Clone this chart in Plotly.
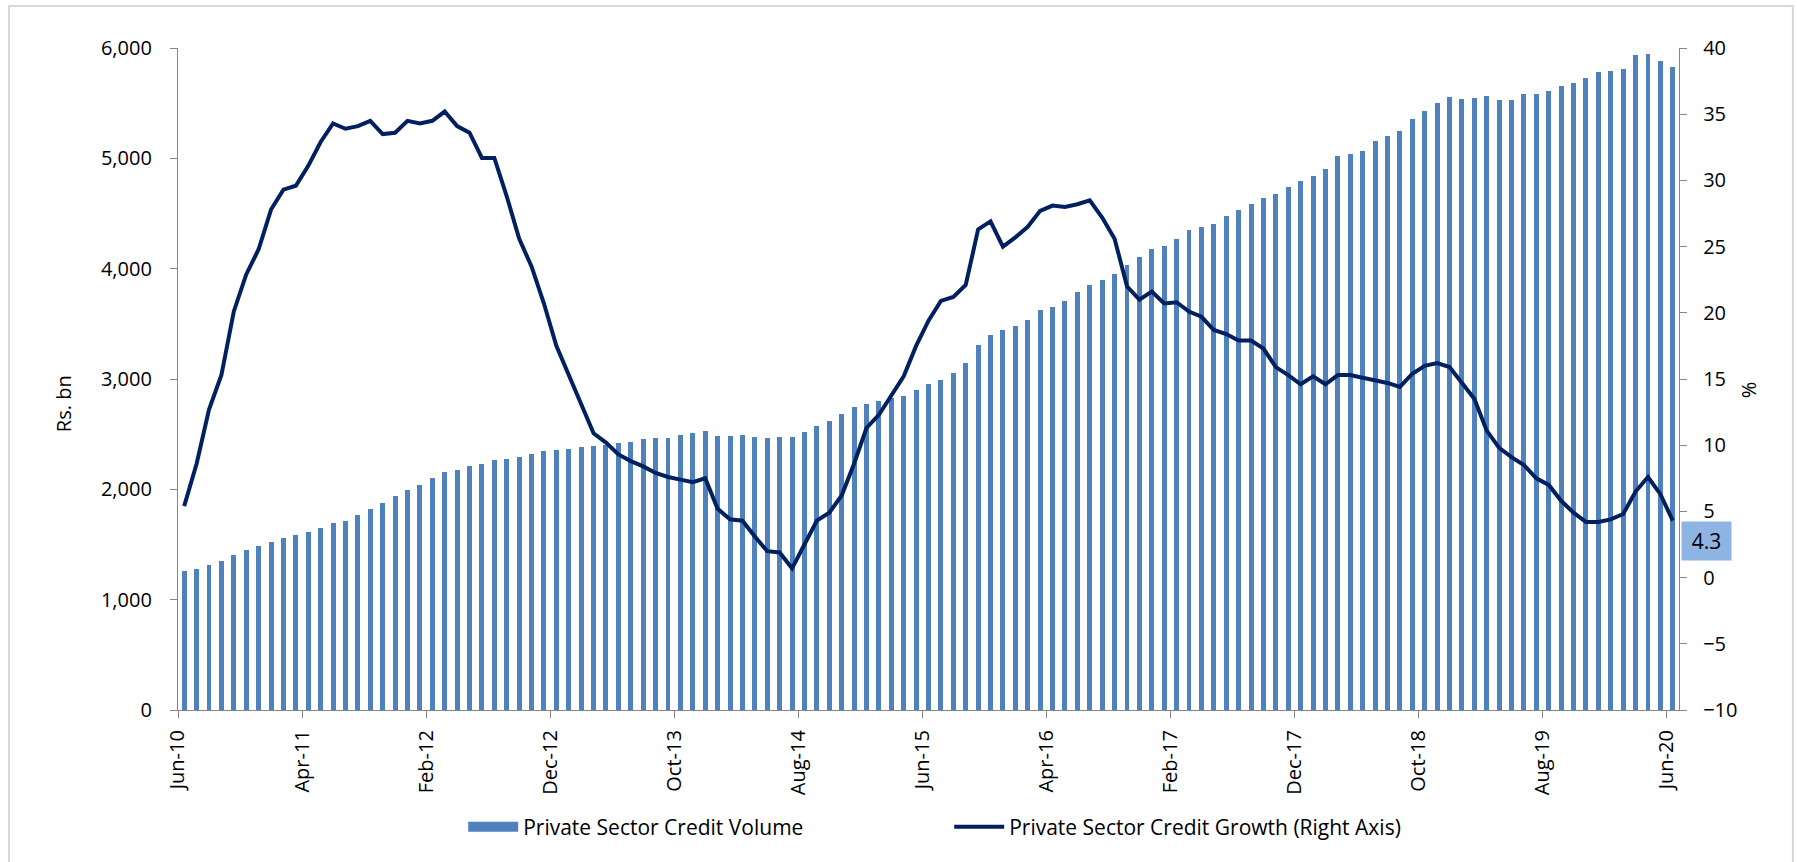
import pandas as pd
import plotly.graph_objects as go

# Monthly series, Jun-2010 .. Jun-2020
months = pd.date_range("2010-06-01", periods=121, freq="MS").strftime("%b-%y").tolist()

credit_volume = [
    1258, 1278, 1318, 1353, 1404, 1448, 1483, 1519, 1558, 1590,
    1617, 1649, 1692, 1716, 1767, 1819, 1874, 1937, 1996, 2041,
    2099, 2154, 2174, 2209, 2229, 2264, 2276, 2292, 2320, 2343,
    2359, 2363, 2383, 2394, 2402, 2418, 2426, 2458, 2462, 2469,
    2489, 2513, 2529, 2485, 2481, 2489, 2473, 2469, 2473, 2473,
    2521, 2576, 2615, 2679, 2746, 2773, 2797, 2828, 2848, 2899,
    2955, 2994, 3057, 3148, 3306, 3396, 3440, 3483, 3535, 3621,
    3649, 3708, 3787, 3850, 3897, 3956, 4032, 4110, 4181, 4201,
    4272, 4355, 4375, 4402, 4481, 4536, 4588, 4639, 4679, 4738,
    4797, 4837, 4904, 5022, 5041, 5069, 5156, 5203, 5247, 5357,
    5425, 5500, 5555, 5539, 5551, 5567, 5527, 5527, 5586, 5586,
    5606, 5657, 5681, 5728, 5787, 5791, 5810, 5936, 5948, 5881,
    5826,
]

credit_growth = [
    5.4, 8.6, 12.7, 15.3, 20.1, 22.9, 24.8, 27.8, 29.3, 29.6,
    31.1, 32.9, 34.3, 33.9, 34.1, 34.5, 33.5, 33.6, 34.5, 34.3,
    34.5, 35.2, 34.1, 33.6, 31.7, 31.7, 28.8, 25.6, 23.5, 20.7,
    17.5, 15.3, 13.2, 10.9, 10.2, 9.3, 8.8, 8.4, 7.9, 7.6,
    7.4, 7.2, 7.5, 5.2, 4.4, 4.3, 3.1, 2.0, 1.9, 0.7,
    2.5, 4.3, 4.9, 6.2, 8.6, 11.3, 12.3, 13.7, 15.2, 17.5,
    19.4, 20.9, 21.2, 22.1, 26.3, 26.9, 25.0, 25.7, 26.5, 27.7,
    28.1, 28.0, 28.2, 28.5, 27.2, 25.6, 22.0, 21.0, 21.6, 20.7,
    20.8, 20.1, 19.7, 18.7, 18.4, 17.9, 17.9, 17.3, 15.9, 15.3,
    14.6, 15.2, 14.6, 15.3, 15.3, 15.1, 14.9, 14.7, 14.4, 15.4,
    16.0, 16.2, 15.9, 14.7, 13.5, 11.1, 9.8, 9.1, 8.5, 7.5,
    7.0, 5.8, 4.9, 4.2, 4.2, 4.4, 4.8, 6.5, 7.6, 6.3,
    4.3,
]

tick_step = 10
left_ticks = [0, 1000, 2000, 3000, 4000, 5000, 6000]
right_ticks = list(range(-10, 41, 5))

BAR_BLUE = "#4F81BD"
NAVY = "#002060"
AXIS_GREY = "#868686"
FONT = "Open Sans"

# bars sit in the middle of each month slot; ticks mark the slot edges
xpos = [i + 0.5 for i in range(len(months))]
tickvals = list(range(0, len(months), tick_step))
ticktext = [months[i] for i in tickvals]

fig = go.Figure()

fig.add_trace(go.Bar(
    x=xpos, y=credit_volume, width=0.4,
    marker=dict(color=BAR_BLUE, line=dict(width=0)),
    name="Private Sector Credit Volume", showlegend=False,
))
fig.add_trace(go.Scatter(
    x=xpos, y=credit_growth, yaxis="y2", mode="lines",
    line=dict(color=NAVY, width=4),
    name="Private Sector Credit Growth (Right Axis)", showlegend=False,
))
# legend keys drawn as wide swatches
fig.add_trace(go.Scatter(
    x=[None], y=[None], mode="lines",
    line=dict(color=BAR_BLUE, width=11),
    name="Private Sector Credit Volume", legendrank=1,
))
fig.add_trace(go.Scatter(
    x=[None], y=[None], yaxis="y2", mode="lines",
    line=dict(color=NAVY, width=4),
    name="Private Sector Credit Growth (Right Axis)", legendrank=2,
))

axis_common = dict(
    showgrid=False, zeroline=False, showline=True,
    linecolor=AXIS_GREY, linewidth=1.3,
    ticks="outside", ticklen=7, tickwidth=1.3, tickcolor=AXIS_GREY,
    tickfont=dict(family=FONT, size=20, color="#000000"),
)

fig.update_layout(
    width=1797, height=862,
    margin=dict(l=178, r=118, t=48, b=152),
    paper_bgcolor="white", plot_bgcolor="white",
    font=dict(family=FONT, size=20, color="#000000"),
    bargap=0,
    xaxis=dict(
        **axis_common,
        range=[0, len(months)],
        tickmode="array", tickvals=tickvals, ticktext=ticktext,
        tickangle=-90, ticklabelstandoff=4,
    ),
    yaxis=dict(
        **axis_common,
        range=[0, 6000], tickmode="array", tickvals=left_ticks,
        tickformat=",d", ticklabelstandoff=14,
    ),
    yaxis2=dict(
        **axis_common,
        range=[-10, 40], tickmode="array", tickvals=right_ticks,
        overlaying="y", side="right", ticklabelstandoff=12,
    ),
    legend=dict(
        orientation="h", x=0.19, xanchor="left", y=-0.177, yanchor="middle",
        font=dict(family=FONT, size=21, color="#000000"),
        entrywidth=421, entrywidthmode="pixels", itemwidth=50,
        bgcolor="rgba(0,0,0,0)",
    ),
    showlegend=True,
)

# axis titles
fig.add_annotation(
    text="Rs. bn", xref="paper", yref="paper", x=-0.0766, y=0.462,
    xanchor="center", yanchor="middle",
    textangle=-90, showarrow=False, font=dict(family=FONT, size=20),
)
fig.add_annotation(
    text="%", xref="paper", yref="paper", x=1.046, y=0.483,
    xanchor="center", yanchor="middle",
    textangle=-90, showarrow=False, font=dict(family=FONT, size=20),
)

# latest growth reading tagged on the right axis
fig.add_annotation(
    text=f"{credit_growth[-1]:.1f}", xref="paper", yref="y2",
    x=1, y=credit_growth[-1], xanchor="left", yanchor="top", xshift=2,
    showarrow=False, bgcolor="#8DB4E2", width=45, height=34, borderpad=2,
    font=dict(family=FONT, size=21, color="#000000"),
)

# outer frame (open at the bottom edge of the page)
fig.add_shape(
    type="rect", xref="paper", yref="paper",
    x0=-0.1126, x1=1.0759, y0=-0.30, y1=1.0634,
    line=dict(color="#D9D9D9", width=2), fillcolor="rgba(0,0,0,0)",
)

fig.write_html("out.html")
